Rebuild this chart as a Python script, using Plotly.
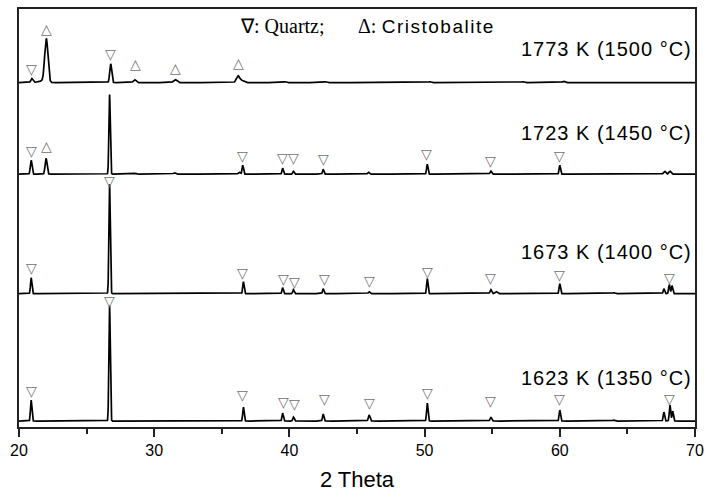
import numpy as np
import plotly.graph_objects as go

# ---- data (intensity in arbitrary units) ----
series_names = ["1773 K (1500 \u00b0C)", "1723 K (1450 \u00b0C)", "1673 K (1400 \u00b0C)", "1623 K (1350 \u00b0C)"]
series_offsets = [346, 254, 134, 6]

peaks_1773_pos = [20.95, 21.6, 22.02, 26.78, 28.55, 31.55, 36.2, 36.5, 39.7, 42.7, 50.4, 57.3, 60.3]
peaks_1773_hgt = [4, 1.5, 44, 19, 3, 3, 7, 2, 1, 1, 1, 1, 1.5]
peaks_1773_wid = [0.08, 0.25, 0.12, 0.07, 0.1, 0.12, 0.12, 0.12, 0.08, 0.08, 0.08, 0.08, 0.08]

peaks_1723_pos = [20.9, 22.0, 26.7, 28.6, 31.5, 36.3, 36.55, 39.5, 40.3, 42.5, 45.85, 50.2, 54.9, 60.0, 67.75, 68.15]
peaks_1723_hgt = [14, 16, 80, 1, 1.5, 2, 9, 6, 3, 5, 2, 10, 3, 9, 3, 3]
peaks_1723_wid = [0.06, 0.07, 0.05, 0.08, 0.08, 0.08, 0.05, 0.05, 0.05, 0.05, 0.06, 0.05, 0.06, 0.05, 0.08, 0.08]

peaks_1673_pos = [20.9, 26.7, 36.6, 39.5, 40.3, 42.5, 45.9, 50.2, 54.9, 55.3, 60.0, 64.0, 67.7, 68.1, 68.3]
peaks_1673_hgt = [16, 110, 12, 6, 4, 5, 2, 15, 4, 2, 10, 1, 5, 9, 8]
peaks_1673_wid = [0.05, 0.05, 0.05, 0.05, 0.05, 0.05, 0.06, 0.05, 0.06, 0.08, 0.05, 0.08, 0.05, 0.05, 0.05]

peaks_1623_pos = [20.9, 26.7, 36.6, 39.5, 40.3, 42.5, 45.9, 50.2, 54.9, 60.0, 64.0, 67.7, 68.15, 68.35]
peaks_1623_hgt = [21, 116, 14, 8, 4, 7, 6, 18, 4, 11, 1, 9, 16, 10]
peaks_1623_wid = [0.05, 0.05, 0.05, 0.05, 0.05, 0.05, 0.06, 0.05, 0.06, 0.05, 0.08, 0.05, 0.05, 0.05]

# phase markers: (2theta, height above zero, kind)  Q = quartz, C = cristobalite
markers_1773_x = [20.95, 22.05, 26.8, 28.6, 31.6, 36.2]
markers_1773_y = [360, 400, 375, 365, 361, 366]
markers_1773_k = ["Q", "C", "Q", "C", "C", "C"]

markers_1723_x = [20.9, 22.0, 36.5, 39.5, 40.3, 42.5, 50.15, 54.9, 60.0]
markers_1723_y = [277, 282, 272, 270, 270, 269, 274, 267, 272]
markers_1723_k = ["Q", "C", "Q", "Q", "Q", "Q", "Q", "Q", "Q"]

markers_1673_x = [20.95, 26.7, 36.55, 39.6, 40.4, 42.6, 45.9, 50.2, 54.9, 60.0, 68.1]
markers_1673_y = [160, 247, 155, 149, 146, 149, 147, 156, 150, 153, 150]
markers_1673_k = ["Q"] * 11

markers_1623_x = [20.95, 26.7, 36.55, 39.55, 40.35, 42.6, 45.9, 50.2, 54.9, 60.0, 68.1]
markers_1623_y = [36, 127, 32, 25, 23, 28, 24, 34, 26, 28, 28]
markers_1623_k = ["Q"] * 11

label_y = [380, 295, 176, 49]

x_ticks = [20, 30, 40, 50, 60, 70]

# ---- build figure ----
two_theta = np.arange(20.0, 70.0001, 0.01)

def pattern(pos, hgt, wid):
    y = np.zeros_like(two_theta)
    for p, h, w in zip(pos, hgt, wid):
        y += h * np.exp(-0.5 * ((two_theta - p) / w) ** 2)
    return y

all_peaks = [
    (peaks_1773_pos, peaks_1773_hgt, peaks_1773_wid),
    (peaks_1723_pos, peaks_1723_hgt, peaks_1723_wid),
    (peaks_1673_pos, peaks_1673_hgt, peaks_1673_wid),
    (peaks_1623_pos, peaks_1623_hgt, peaks_1623_wid),
]
all_markers = [
    (markers_1773_x, markers_1773_y, markers_1773_k),
    (markers_1723_x, markers_1723_y, markers_1723_k),
    (markers_1673_x, markers_1673_y, markers_1673_k),
    (markers_1623_x, markers_1623_y, markers_1623_k),
]

fig = go.Figure()
for name, off, (pos, hgt, wid) in zip(series_names, series_offsets, all_peaks):
    fig.add_trace(go.Scatter(
        x=two_theta, y=off + pattern(pos, hgt, wid), mode="lines",
        line=dict(color="black", width=1.7), name=name, showlegend=False,
    ))

annotations = []
glyph = {"Q": "\u25bd", "C": "\u25b3"}
for mx, my, mk in all_markers:
    for x, y, k in zip(mx, my, mk):
        annotations.append(dict(
            x=x, y=y, xref="x", yref="y", text=glyph[k], showarrow=False,
            font=dict(family="DejaVu Sans", size=14, color="#707070"),
            xanchor="center", yanchor="middle",
        ))

for name, ly in zip(series_names, label_y):
    annotations.append(dict(
        x=69.95, y=ly, xref="x", yref="y",
        text="<span style='letter-spacing:1px'>" + name + "</span>", showarrow=False,
        font=dict(family="Liberation Sans, Arial", size=20, color="black"),
        xanchor="right", yanchor="middle",
    ))

annotations.append(dict(
    x=36.2, y=403, xref="x", yref="y", text="\u2207: Quartz;", showarrow=False,
    font=dict(family="Liberation Serif, Times New Roman", size=20, color="black"),
    xanchor="left", yanchor="middle",
))
annotations.append(dict(
    x=44.9, y=403, xref="x", yref="y",
    text="<span style='font-family:Liberation Serif;font-size:20px'>\u0394:</span> "
         "<span style='letter-spacing:1.5px'>Cristobalite</span>", showarrow=False,
    font=dict(family="Liberation Sans, Arial", size=19, color="black"),
    xanchor="left", yanchor="middle",
))

fig.update_layout(
    width=711, height=497,
    margin=dict(l=19, r=11, t=7, b=70),
    paper_bgcolor="white", plot_bgcolor="white",
    annotations=annotations,
    xaxis=dict(
        range=[20, 70], tickvals=x_ticks, ticks="outside", ticklen=8, tickwidth=1.5,
        tickcolor="#222", showline=True, linecolor="#222", linewidth=1.5, mirror=True,
        showgrid=False, zeroline=False,
        tickfont=dict(family="Liberation Sans, Arial", size=16, color="black"),
        minor=dict(dtick=5, tick0=20, ticks="outside", ticklen=5, tickwidth=1.5, tickcolor="#222", showgrid=False),
        title=dict(text="2 Theta", font=dict(family="Liberation Sans, Arial", size=22, color="black"), standoff=14),
    ),
    yaxis=dict(
        range=[0, 420], showticklabels=False, ticks="", showline=True, linecolor="#222",
        linewidth=1.5, mirror=True, showgrid=False, zeroline=False,
    ),
)

fig.write_html("out.html")
